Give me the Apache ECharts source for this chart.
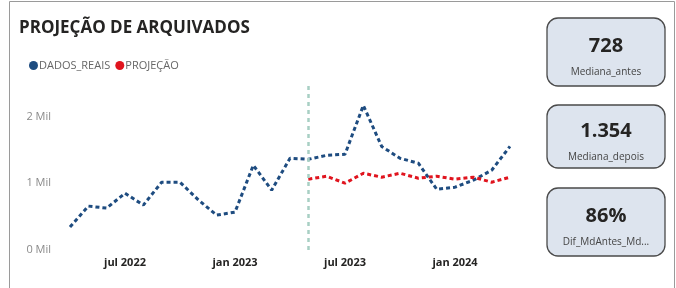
<!DOCTYPE html>
<html><head><meta charset="utf-8">
<script src="https://cdn.jsdelivr.net/npm/echarts@6/dist/echarts.min.js"></script>
<style>html,body{margin:0;padding:0;background:#fff}#c{width:676px;height:288px}</style>
</head><body><div id="c"></div>
<script>
const months = ['abr 2022','mai 2022','jun 2022','jul 2022','ago 2022','set 2022','out 2022','nov 2022','dez 2022',
  'jan 2023','fev 2023','mar 2023','abr 2023','mai 2023','jun 2023','jul 2023','ago 2023','set 2023','out 2023','nov 2023','dez 2023',
  'jan 2024','fev 2024','mar 2024','abr 2024'];
const dadosReais = [343,657,627,850,672,1015,1015,750,522,567,1269,896,1373,1358,1418,1433,2164,1550,1373,1299,910,940,1045,1194,1552];
const projecao = [null,null,null,null,null,null,null,null,null,null,null,null,null,1060,1104,1000,1149,1090,1149,1075,1104,1060,1090,1015,1090];
const shownMonths = ['jul 2022','jan 2023','jul 2023','jan 2024'];
const yTicks = [0,1000,2000];
const markerMonth = 'mai 2023';
const cardValues = ['728','1.354','86%'];
const cardLabels = ['Mediana_antes','Mediana_depois','Dif_MdAntes_Md...'];

const FONT = '"Open Sans", "Noto Sans", sans-serif';
const BLUE = '#1e4c80', RED = '#e0141e';
const chart = echarts.init(document.getElementById('c'), null, {renderer:'canvas'});

const cardTops = [18,105,188];
const cardH = [68,63,68];
const graphics = [
  {type:'rect', shape:{x:9.5,y:1.5,width:665,height:290}, style:{fill:'none',stroke:'#9a9a9a',lineWidth:1}, z:0},
  {type:'text', left:19, top:20, style:{text:'PROJEÇÃO DE ARQUIVADOS', font:'bold 17px '+FONT, fill:'#252423'}}
];
cardValues.forEach((v,i)=>{
  graphics.push({type:'rect', shape:{x:547,y:cardTops[i],width:118,height:cardH[i],r:11},
    style:{fill:'#dde4ee',stroke:'#4a4a4a',lineWidth:1.3}});
  graphics.push({type:'text', x:606, y:cardTops[i]+ (i===1?26:28), style:{text:v, font:'bold 20px '+FONT, fill:'#252423', align:'center', verticalAlign:'middle'}});
  graphics.push({type:'text', x:606, y:cardTops[i]+ (i===1?52:54), style:{text:cardLabels[i], font:'10px '+FONT, fill:'#444', align:'center', verticalAlign:'middle'}});
});

chart.setOption({
  animation:false,
  textStyle:{fontFamily:FONT},
  legend:{left:24, top:55, itemWidth:9, itemHeight:9, itemGap:5, icon:'circle',
    textStyle:{fontSize:11, color:'#666666', padding:[0,0,0,-4]},
    data:['DADOS_REAIS','PROJEÇÃO']},
  grid:{left:70, right:166, top:83, bottom:38},
  xAxis:{type:'category', data:months, boundaryGap:false,
    axisLine:{show:false}, axisTick:{show:false}, splitLine:{show:false},
    axisLabel:{interval:(i,v)=>shownMonths.includes(v), fontSize:11, fontWeight:'bold', color:'#252423', margin:7}},
  yAxis:{type:'value', min:0, max:2500, interval:1000, splitLine:{show:false},
    axisLine:{show:false}, axisTick:{show:false},
    axisLabel:{fontSize:11, color:'#8a8a8a', margin:19,
      formatter:v=> yTicks.includes(v) ? (v/1000)+' Mil' : ''}},
  series:[
    {name:'DADOS_REAIS', type:'line', data:dadosReais, symbol:'none', itemStyle:{color:BLUE},
      lineStyle:{color:BLUE, width:3, type:[4,3]},
      markLine:{silent:true, symbol:'none', label:{show:false},
        lineStyle:{color:'#a8cfc4', width:2.5, type:[4,4]}, data:[{xAxis:markerMonth}]}},
    {name:'PROJEÇÃO', type:'line', data:projecao, symbol:'none', itemStyle:{color:RED},
      lineStyle:{color:RED, width:3, type:[4,3]}}
  ],
  graphic:graphics
});
</script></body></html>
